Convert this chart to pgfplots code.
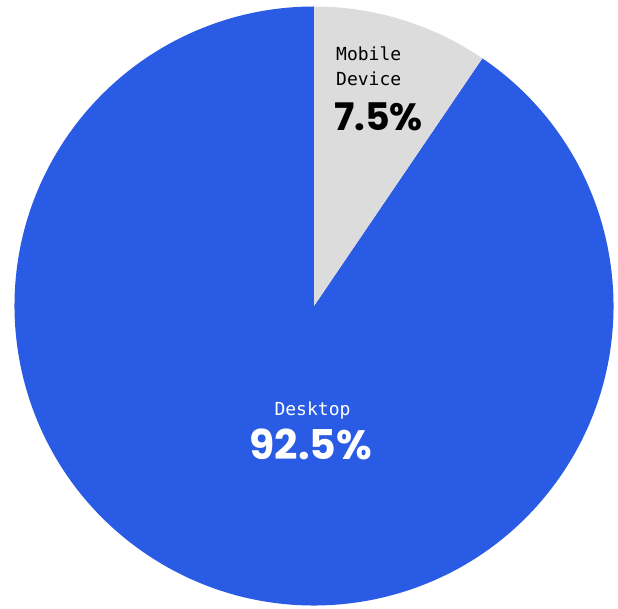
\documentclass[border=0pt]{standalone}
\usepackage{pgfplots}
\pgfplotsset{compat=1.18}
\usepackage{pgfplotstable}
\usepackage{fontspec}
\setmainfont{Poppins}
\newfontfamily\labelfont{DejaVu Sans Mono}
\newfontfamily\pctfont{Poppins}[UprightFont=* Bold]
\definecolor{deskblue}{HTML}{2A5BE4}
\definecolor{mobgrey}{HTML}{DCDCDC}
% share = drawn share of the circle, label = printed value
\pgfplotstableread{
name share label
Mobile 9.5 7.5
Desktop 90.5 92.5
}\piedata
\begin{document}
\begin{tikzpicture}
\pgfplotstablegetelem{0}{share}\of\piedata \let\mshare\pgfplotsretval
\pgfplotstablegetelem{0}{label}\of\piedata \let\mlabel\pgfplotsretval
\pgfplotstablegetelem{1}{label}\of\piedata \let\dlabel\pgfplotsretval
\pgfmathsetmacro{\splitang}{90-3.6*\mshare}
\begin{axis}[
  width=618pt, height=608pt, scale only axis,
  xmin=0, xmax=618, ymin=0, ymax=608,
  hide axis, clip=false,
]
\coordinate (ll) at (axis cs:0,0);
\coordinate (ur) at (axis cs:618,608);
\fill[deskblue] (axis cs:314,302) -- ++(\splitang:299.5) arc[start angle=\splitang, end angle=-270, radius=299.5] -- cycle;
\fill[mobgrey] (axis cs:314,302) -- ++(90:299.5) arc[start angle=90, end angle=\splitang, radius=299.5] -- cycle;
\node[anchor=base west, inner sep=0pt, font=\labelfont\fontsize{18}{20}\selectfont] at (axis cs:336,547) {Mobile};
\node[anchor=base west, inner sep=0pt, font=\labelfont\fontsize{18}{20}\selectfont] at (axis cs:336,522) {Device};
\node[anchor=base west, inner sep=0pt, font=\pctfont\fontsize{38}{40}\selectfont] at (axis cs:334,477) {\mlabel\%};
\node[anchor=base, inner sep=0pt, text=white, font=\labelfont\fontsize{18}{20}\selectfont] at (axis cs:312.5,193) {Desktop};
\node[anchor=base, inner sep=0pt, text=white, font=\pctfont\fontsize{41}{43}\selectfont] at (axis cs:311,149) {\dlabel\%};
\end{axis}
\pgfresetboundingbox
\path[use as bounding box] (ll) rectangle (ur);
\end{tikzpicture}
\end{document}
